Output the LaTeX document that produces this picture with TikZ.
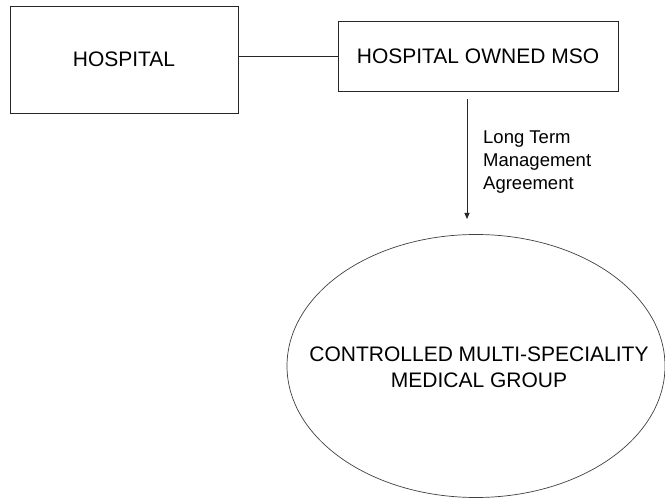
\documentclass[tikz,border=0pt]{standalone}
\usepackage{fontspec}
\setmainfont{Liberation Sans}
\usetikzlibrary{shapes.geometric,arrows.meta}
\begin{document}
\begin{tikzpicture}[x=1pt,y=-1pt,
  box/.style={draw=black!85, line width=0.9pt, inner sep=0pt, font=\fontsize{21}{25}\selectfont},
  oval/.style={ellipse, draw=black!75, line width=0.7pt, inner sep=0pt},
  ovaltext/.style={inner sep=0pt, align=center, font=\fontsize{21}{26}\selectfont},
  link/.style={draw=black!85, line width=0.9pt},
  note/.style={inner sep=0pt, align=left, anchor=north west, font=\fontsize{18.5}{23}\selectfont}]
\useasboundingbox[fill=white] (0,0) rectangle (665,500);

\node[box, minimum width=228pt, minimum height=107pt] (hosp) at (124,59.5) {HOSPITAL};
\node[box, minimum width=280pt, minimum height=70pt] (mso) at (478,56) {HOSPITAL OWNED MSO};

% the oval is sized on its own; its two-line caption sits at its centre
\node[oval, minimum width=378pt, minimum height=263pt] (group) at (476,366) {};
\node[ovaltext] (grouptext) at ([xshift=3pt,yshift=-1pt]group.center)
  {CONTROLLED MULTI-SPECIALITY\\MEDICAL GROUP};

\coordinate (tail) at (467,99);
\coordinate (tip) at (467,219);

\draw[link] (hosp.east |- mso.west) -- (mso.west);
\draw[link, -{Triangle[length=6pt,width=5pt]}] (tail) -- (tip);
\node[note] (agree) at (483,131) {Long Term\\Management\\Agreement};
\end{tikzpicture}
\end{document}
